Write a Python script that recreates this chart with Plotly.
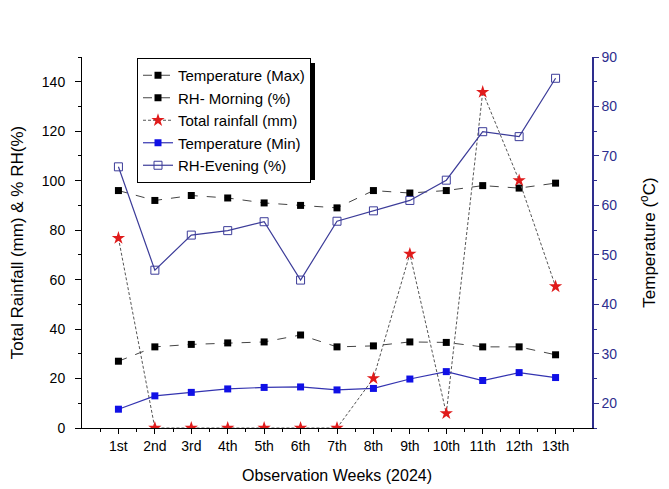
import plotly.graph_objects as go

weeks = ["1st", "2nd", "3rd", "4th", "5th", "6th", "7th", "8th", "9th", "10th", "11th", "12th", "13th"]
temp_max = [28.5, 31.4, 31.9, 32.2, 32.4, 33.8, 31.4, 31.6, 32.4, 32.3, 31.4, 31.4, 29.8]
rh_morning = [96, 92, 94, 93, 91, 90, 89, 96, 95, 96, 98, 97, 99]
rainfall = [76.8, 0, 0, 0, 0, 0, 0, 20.1, 70.4, 5.9, 135.8, 100.1, 57.2]
temp_min = [18.8, 21.5, 22.2, 22.9, 23.2, 23.3, 22.7, 23.0, 24.9, 26.4, 24.6, 26.2, 25.2]
rh_evening = [67.8, 46.9, 54.0, 54.9, 56.7, 44.9, 56.8, 58.9, 61.0, 65.1, 74.9, 73.9, 85.7]

x = list(range(1, len(weeks) + 1))
NAVY = "#2E2E8E"
FONT = "Liberation Sans, Arial, sans-serif"

fig = go.Figure()
fig.add_trace(go.Scatter(x=x, y=temp_max, name="Temperature (Max)", yaxis="y2",
                         mode="lines+markers",
                         line=dict(color="#444444", width=1, dash="dash"),
                         marker=dict(symbol="square", size=7, color="black")))
fig.add_trace(go.Scatter(x=x, y=rh_morning, name="RH- Morning (%)",
                         mode="lines+markers",
                         line=dict(color="#444444", width=1, dash="dash"),
                         marker=dict(symbol="square", size=7, color="black")))
fig.add_trace(go.Scatter(x=x, y=rainfall, name="Total rainfall (mm)",
                         mode="lines+markers",
                         line=dict(color="#555555", width=1, dash="3px,2px"),
                         marker=dict(symbol="star", size=10, color="#E01B1B")))
fig.add_trace(go.Scatter(x=x, y=temp_min, name="Temperature (Min)", yaxis="y2",
                         mode="lines+markers",
                         line=dict(color="#3333B0", width=1.2),
                         marker=dict(symbol="square", size=7, color="#1010E6")))
fig.add_trace(go.Scatter(x=x, y=rh_evening, name="RH-Evening (%)", yaxis="y2",
                         mode="lines+markers",
                         line=dict(color="#3C3C99", width=1.2),
                         marker=dict(symbol="square-open", size=8, color="#3C3C99",
                                     line=dict(width=1))))

# page body adds an 8px offset, so figure coords = reference coords - 8
OFF = 8
L, T = 82 - OFF, 57 - OFF
pw, ph = 510, 371
R = 669 - L - pw
B = 489 - T - ph

def px(v):
    return (v - OFF - L) / pw

def py(v):
    return (T + ph - (v - OFF)) / ph

fig.add_shape(type="rect", xref="paper", yref="paper",
              x0=px(142), x1=px(315), y0=py(180), y1=py(63),
              fillcolor="black", line=dict(width=0), layer="above")

fig.update_layout(
    width=669, height=489,
    margin=dict(l=L, r=R, t=T, b=B, autoexpand=False),
    paper_bgcolor="white", plot_bgcolor="white",
    font=dict(family=FONT, size=14, color="black"),
    showlegend=True,
    legend=dict(x=px(137), y=py(58), xanchor="left", yanchor="top",
                bgcolor="white", bordercolor="black", borderwidth=1,
                font=dict(size=15, family=FONT), tracegroupgap=0,
                itemwidth=30),
    xaxis=dict(range=[0, 14], tickmode="array", tickvals=x, ticktext=weeks,
               automargin=False,
               showgrid=False, zeroline=False, showline=True, linecolor="black",
               linewidth=1, ticks="outside", ticklen=5, tickcolor="black",
               tickfont=dict(size=14),
               minor=dict(tick0=0.5, dtick=1, ticks="outside", ticklen=3,
                          tickcolor="black", showgrid=False),
               title=dict(text="Observation Weeks (2024)", font=dict(size=16), standoff=17)),
    yaxis=dict(range=[0, 150], tickmode="linear", tick0=0, dtick=20,
               automargin=False, ticklabelstandoff=7,
               showgrid=False, zeroline=False, showline=True, linecolor="black",
               linewidth=1, ticks="outside", ticklen=6, tickcolor="black",
               tickfont=dict(size=14),
               minor=dict(dtick=10, ticks="outside", ticklen=3, tickcolor="black",
                          showgrid=False),
               title=dict(text="Total Rainfall (mm) & % RH(%)", font=dict(size=17), standoff=16)),
    yaxis2=dict(range=[15, 90], overlaying="y", side="right", tickmode="linear",
                tick0=20, dtick=10, automargin=False,
                showgrid=False, zeroline=False, showline=True, linecolor=NAVY,
                linewidth=1.5, ticks="outside", ticklen=5, tickcolor=NAVY,
                tickfont=dict(size=14, color=NAVY),
                minor=dict(dtick=5, ticks="outside", ticklen=3, tickcolor=NAVY,
                           showgrid=False),
                title=dict(text="Temperature (<sup>o</sup>C)", font=dict(size=17, color="black"),
                           standoff=27)),
)

fig.write_html("out.html")
